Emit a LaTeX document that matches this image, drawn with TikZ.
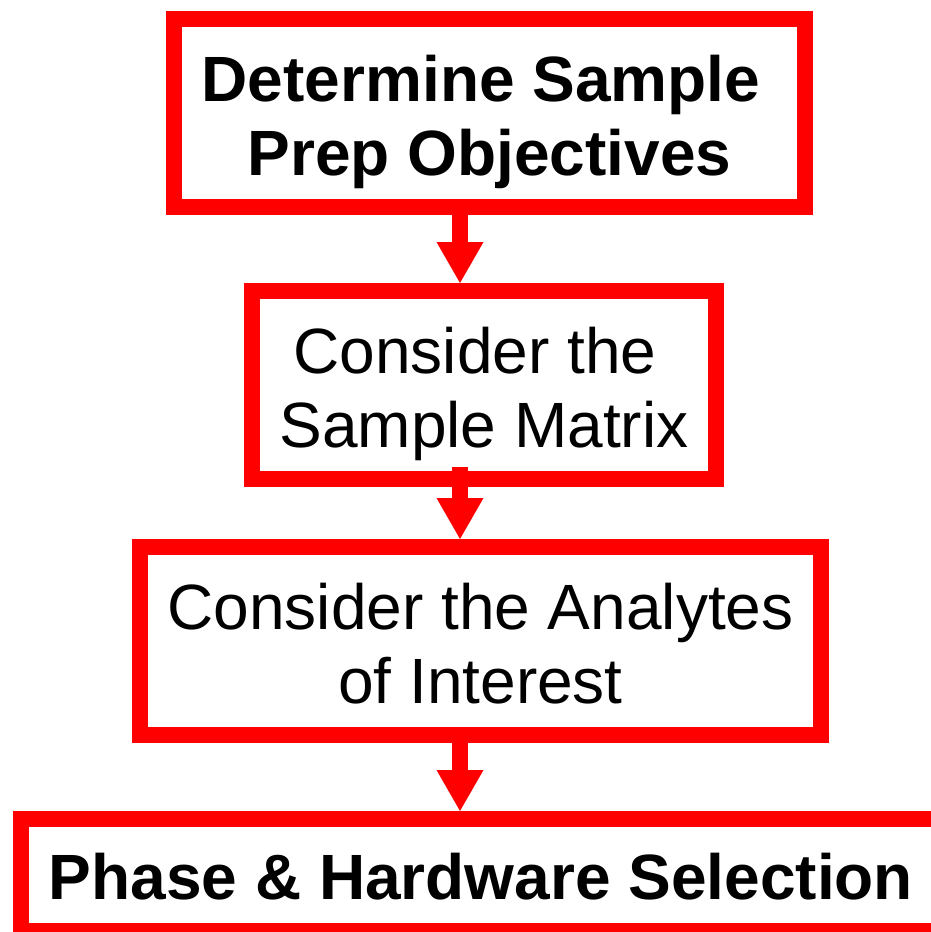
\documentclass[tikz,border=0pt]{standalone}
\usepackage{fontspec}
\setmainfont{Liberation Sans}
\usetikzlibrary{arrows.meta}
\newcommand\topstr{\rule{0pt}{70pt}}
\newcommand\botstr{\rule[-20pt]{0pt}{20pt}}
\newcommand\onestr{\rule[-20pt]{0pt}{88pt}}
\tikzset{
  flowbox/.style={draw=red, line width=16pt, fill=white, inner sep=0pt,
    align=center, font=\fontsize{64pt}{74pt}\selectfont, text=black},
  flowarrow/.style={draw=red, line width=16pt,
    -{Triangle[width=47pt,length=41pt,line width=0pt]}}
}
\begin{document}
\begin{tikzpicture}[x=1pt,y=-1pt]
\useasboundingbox (0,0) rectangle (931,932);
\fill[white] (0,0) rectangle (931,932);
\clip (0,0) rectangle (931,932);
\coordinate (ax) at (460,0);
\node[flowbox, minimum width=631pt, minimum height=188pt] (b1) at (489.5,113)
  {\bfseries\topstr Determine Sample\kern17pt\\\bfseries Prep Objectives\botstr};
\node[flowbox, minimum width=464pt, minimum height=188pt] (b2) at (484,385)
  {\topstr Consider the\kern18pt\\Sample Matrix\botstr};
\node[flowbox, minimum width=681pt, minimum height=188pt] (b3) at (480.5,641)
  {\topstr Consider the Analytes\\of Interest\botstr};
\node[flowbox, minimum width=920pt, minimum height=112pt] (b4) at (481,875)
  {\bfseries\onestr Phase \& Hardware Selection};
\draw[flowarrow] (b1.south -| ax) -- (b2.north -| ax);
\draw[flowarrow] ([yshift=20pt]b2.south -| ax) -- (b3.north -| ax);
\draw[flowarrow] (b3.south -| ax) -- (b4.north -| ax);
\end{tikzpicture}
\end{document}
